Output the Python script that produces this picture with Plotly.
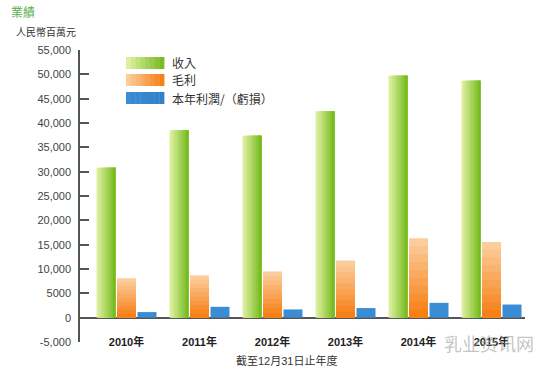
import plotly.graph_objects as go

# ---------------- data ----------------
years = ["2010年", "2011年", "2012年", "2013年", "2014年", "2015年"]
revenue = [30800, 38500, 37400, 42400, 49700, 48700]
gross_profit = [8100, 8700, 9500, 11750, 16300, 15550]
net_profit = [1150, 2230, 1690, 1970, 3040, 2700]
series_names = ["收入", "毛利", "本年利潤/（虧損）"]
y_tickvals = [-5000, 0, 5000, 10000, 15000, 20000, 25000, 30000, 35000, 40000, 45000, 50000, 55000]
y_ticktext = ["-5,000", "0", "5000", "10,000", "15,000", "20,000", "25,000", "30,000",
              "35,000", "40,000", "45,000", "50,000", "55,000"]

# ---------------- styling ----------------
W, H = 551, 374
L, R, T, B = 80, 26, 50, 32
N = 10
BAR_W = 0.26
STEP = 0.281

def lerp(c1, c2, t):
    return "rgb(%d,%d,%d)" % tuple(round(a + (b - a) * t) for a, b in zip(c1, c2))

GREEN_L, GREEN_D = (222, 240, 160), (120, 188, 34)
ORANGE_L, ORANGE_D = (252, 204, 156), (246, 128, 22)
BLUE = (58, 140, 212)

fig = go.Figure()

# green bars: horizontal gradient (light left -> dark right)
for k in range(N):
    t = k / (N - 1)
    fig.add_trace(go.Bar(
        x=years, y=revenue, name=series_names[0], showlegend=False,
        offset=-STEP - BAR_W / 2 + k * BAR_W / N, width=BAR_W * (1 - k / N),
        marker=dict(color=lerp(GREEN_L, GREEN_D, t), line=dict(width=0)),
        hoverinfo="skip" if k else None))

# orange bars: vertical gradient (light top -> dark bottom)
for k in range(N):
    t = k / (N - 1)
    fig.add_trace(go.Bar(
        x=years, y=[v * (1 - k / N) for v in gross_profit], name=series_names[1], showlegend=False,
        offset=-BAR_W / 2, width=BAR_W,
        marker=dict(color=lerp(ORANGE_L, ORANGE_D, t), line=dict(width=0)),
        hoverinfo="skip" if k else None))

# blue bars
fig.add_trace(go.Bar(
    x=years, y=net_profit, name=series_names[2], showlegend=False,
    offset=STEP - BAR_W / 2, width=BAR_W,
    marker=dict(color=lerp(BLUE, BLUE, 0), line=dict(width=0))))

def pxx(x):
    return (x - L) / (W - L - R)

def pyy(y):
    return (H - B - y) / (H - T - B)

shapes = []
annotations = []
# legend swatches (gradients)
legend_rows = [(57, 69, GREEN_L, GREEN_D), (74, 86, ORANGE_L, ORANGE_D), (92, 104, BLUE, (50, 128, 200))]
for (y0, y1, c1, c2), name in zip(legend_rows, series_names):
    for k in range(8):
        xa = 126 + k * 38 / 8
        xb = xa + 38 / 8 + 0.4
        shapes.append(dict(type="rect", xref="paper", yref="paper",
                           x0=pxx(xa), x1=pxx(xb), y0=pyy(y1), y1=pyy(y0),
                           fillcolor=lerp(c1, c2, k / 7), line=dict(width=0), layer="above"))
    annotations.append(dict(text=name, xref="paper", yref="paper", x=pxx(170), y=pyy((y0 + y1) / 2),
                            xanchor="left", yanchor="middle", showarrow=False,
                            font=dict(size=12, color="#333", family="Noto Sans CJK TC")))

annotations += [
    dict(text="業績", xref="paper", yref="paper", x=pxx(9), y=pyy(11), xanchor="left", yanchor="middle",
         showarrow=False, font=dict(size=12, color="#5aad4a", family="Noto Sans CJK TC")),
    dict(text="人民幣百萬元", xref="paper", yref="paper", x=pxx(14), y=pyy(31), xanchor="left",
         yanchor="middle", showarrow=False, font=dict(size=10, color="#333", family="Noto Sans CJK TC")),
    dict(text="截至12月31日止年度", xref="paper", yref="paper", x=pxx(286), y=pyy(360), xanchor="center",
         yanchor="middle", showarrow=False,
         font=dict(size=11, color="#333", family="Liberation Sans, Noto Sans CJK TC")),
    dict(text="乳业资讯网", xref="paper", yref="paper", x=pxx(489), y=pyy(343), xanchor="center",
         yanchor="middle", showarrow=False,
         font=dict(size=18, color="rgba(170,170,170,0.7)", family="Noto Sans CJK SC")),
]

fig.update_layout(
    width=W, height=H,
    margin=dict(l=L, r=R, t=T, b=B, pad=0),
    paper_bgcolor="white", plot_bgcolor="white",
    barmode="overlay",
    shapes=shapes, annotations=annotations,
    showlegend=False,
    xaxis=dict(range=[-0.637, 5.459], showline=False, showgrid=False, zeroline=False, ticks="",
               tickfont=dict(size=11, color="#222", family="Liberation Sans, Noto Sans CJK TC",
                             weight="bold"),
               ticklabelstandoff=-8, fixedrange=True),
    yaxis=dict(range=[-5000, 55000], tickvals=y_tickvals, ticktext=y_ticktext,
               showline=True, linecolor="#555", linewidth=1.5, ticks="inside", ticklen=9,
               tickcolor="#555", tickwidth=1.5, showgrid=False,
               zeroline=True, zerolinecolor="#555", zerolinewidth=1.5,
               tickfont=dict(size=11, color="#444", family="Liberation Sans"),
               ticklabelstandoff=5, fixedrange=True),
)

fig.write_html("out.html", config={"displayModeBar": False},
               post_script="document.body.style.margin='0px';")
